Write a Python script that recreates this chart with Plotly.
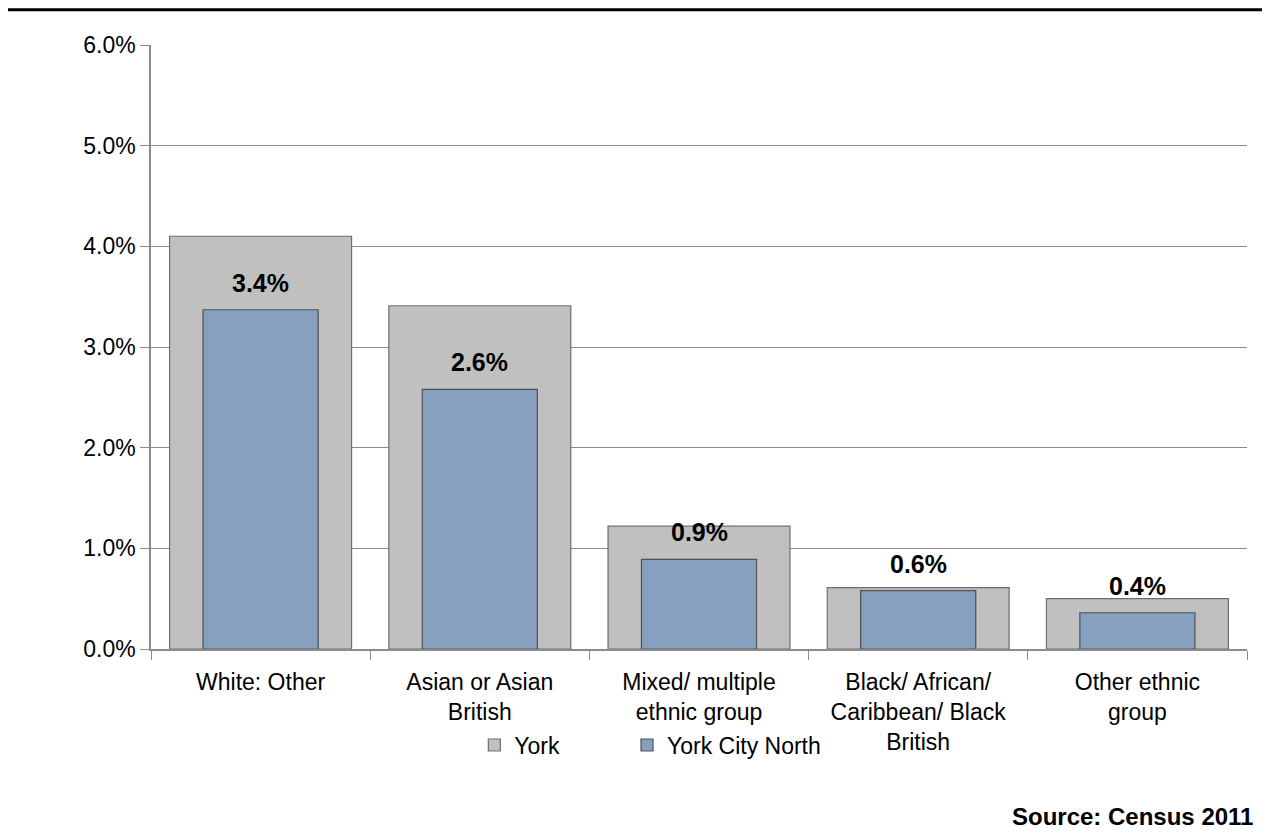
import plotly.graph_objects as go

categories = ["White: Other", "Asian or Asian<br>British", "Mixed/ multiple<br>ethnic group",
              "Black/ African/<br>Caribbean/ Black<br>British", "Other ethnic<br>group"]
york = [4.10, 3.41, 1.22, 0.61, 0.50]
york_city_north = [3.37, 2.58, 0.89, 0.58, 0.36]
labels = ["3.4%", "2.6%", "0.9%", "0.6%", "0.4%"]
y_ticks = [0, 1, 2, 3, 4, 5, 6]
y_tick_text = ["0.0%", "1.0%", "2.0%", "3.0%", "4.0%", "5.0%", "6.0%"]

FONT = "Liberation Sans, Arial, sans-serif"
GRID = "#8C8C8C"

fig = go.Figure()
fig.add_trace(go.Bar(x=categories, y=york, name="York", width=0.83, legend="legend",
                     showlegend=True,
                     marker=dict(color="#C0C0C0", line=dict(color="#6E6E6E", width=1.2))))
fig.add_trace(go.Bar(x=categories, y=york_city_north, name="York City North", width=0.525,
                     legend="legend2", showlegend=True,
                     marker=dict(color="#87A0BF", line=dict(color="#505050", width=1.2))))

for c, v, t in zip(categories, york_city_north, labels):
    fig.add_annotation(x=c, y=v, text="<b>%s</b>" % t, showarrow=False, yanchor="middle",
                       yshift=27, font=dict(family=FONT, size=25, color="black"))

fig.add_annotation(xref="paper", yref="paper", x=1.0075, y=-0.278, xanchor="right", yanchor="middle",
                   text="<b>Source: Census 2011</b>", showarrow=False,
                   font=dict(family=FONT, size=24, color="black"))

fig.add_shape(type="line", xref="paper", yref="paper", x0=-0.2, x1=1.05, y0=1.0585, y1=1.0585,
              line=dict(color="black", width=3))

legend_common = dict(orientation="h", y=-0.159, xanchor="left", yanchor="middle",
                     font=dict(family=FONT, size=23), itemwidth=30, bgcolor="rgba(0,0,0,0)",
                     visible=True)

fig.update_layout(
    width=1262, height=825,
    barmode="overlay",
    showlegend=True,
    plot_bgcolor="white", paper_bgcolor="white",
    margin=dict(l=143, r=23, t=37, b=184),
    font=dict(family=FONT, size=23, color="black"),
    legend=dict(x=0.295, **legend_common),
    legend2=dict(x=0.4343, **legend_common),
)
fig.update_yaxes(range=[0, 6], tickvals=y_ticks, ticktext=y_tick_text, showgrid=True,
                 gridcolor=GRID, gridwidth=1.3, showline=True, linecolor=GRID, linewidth=1.5,
                 ticks="outside", ticklen=9, tickcolor=GRID, zeroline=False,
                 tickfont=dict(family=FONT, size=23))
fig.update_xaxes(showline=True, linecolor=GRID, linewidth=1.5, ticks="outside",
                 tickson="boundaries", ticklen=9, tickcolor=GRID, ticklabelstandoff=12,
                 tickfont=dict(family=FONT, size=23))

fig.write_html("out.html")
